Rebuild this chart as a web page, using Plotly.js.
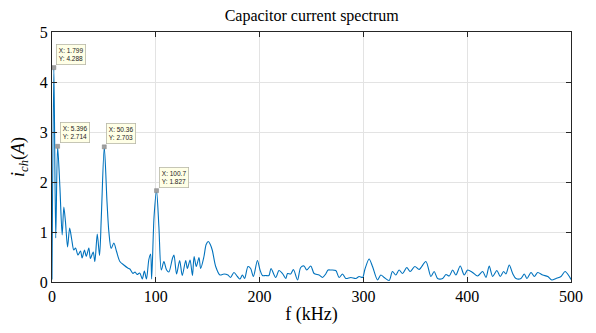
<!DOCTYPE html>
<html><head><meta charset="utf-8">
<script src="https://cdn.plot.ly/plotly-3.0.1.min.js"></script>
<style>html,body{margin:0;padding:0;background:#fff}#chart{width:596px;height:333px}</style>
</head><body><div id="chart"></div>
<script>
const freq = [0,1.799,3.6,5.396,7.6,9.8,11.4,13,15,17,19,21,22.7,25,27.5,29,31.3,33,35.5,37,39.7,41.3,43.6,45.8,47.5,50.36,53,54.8,57,59.6,62.2,65.4,69.2,73,75,78,80,82,84.5,87,89,91,93.3,95,96,98.3,100.7,103,105.3,107.8,110.4,112.6,116,117.5,120,123,125.5,128.8,130.4,133,135.3,136.9,139,141.6,143.2,146.4,148.5,150.6,152.5,154.5,157.7,161.8,165.7,169.5,172,175.3,178.6,181.1,183.4,185.6,188.8,191.4,194,197.9,200.4,202.7,205.9,209,211,215.5,218.7,222,225.2,226.9,230,232.6,236.5,239.6,242.8,245.4,249.3,252.5,257.3,260.6,263.7,266,268.6,273.4,276.6,279.9,283,287.9,292.7,295.9,299.2,301.4,305.5,308.8,313.6,316.8,320,324.8,328,331.2,334.4,337.7,341.8,345,349.6,353.7,360.2,365,368.2,371.5,376.3,379.5,382.7,386,389.1,393.3,397.1,400.4,405.2,410,414.9,418.1,421.2,424.5,428.6,431.8,435.1,437.3,440.5,443.8,447,451.8,455,457.6,461.5,464.7,467.9,472.8,477.6,481.5,485.6,490.4,494.3,498.4,500];
const amp = [0.05,4.288,0.88,2.714,1.9,0.94,1.5,1.2,0.7,1.08,0.85,0.64,0.68,0.54,0.62,0.48,0.64,0.51,0.68,0.47,0.6,0.41,0.96,0.53,1.3,2.703,1.6,1.0,0.67,0.78,0.61,0.41,0.34,0.28,0.26,0.17,0.2,0.15,0.18,0.06,0.22,0.06,0.45,0.56,0.06,1.3,1.827,1.1,0.24,0.41,0.24,0.2,0.47,0.54,0.16,0.43,0.13,0.43,0.27,0.44,0.13,0.51,0.31,0.49,0.27,0.51,0.75,0.81,0.75,0.63,0.31,0.14,0.16,0.14,0.09,0.19,0.11,0.06,0.14,0.07,0.31,0.27,0.11,0.43,0.24,0.13,0.13,0.13,0.27,0.09,0.23,0.17,0.07,0.17,0.16,0.25,0.04,0.29,0.32,0.24,0.32,0.17,0.14,0.09,0.16,0.24,0.24,0.23,0.09,0.16,0.07,0.09,0.07,0.11,0.09,0.25,0.46,0.31,0.04,0.14,0.09,0.03,0.21,0.14,0.24,0.17,0.29,0.21,0.31,0.25,0.41,0.11,0.21,0.07,0.07,0.15,0.12,0.24,0.14,0.32,0.14,0.24,0.19,0.12,0.21,0.09,0.32,0.11,0.23,0.11,0.21,0.16,0.34,0.17,0.07,0.07,0.16,0.07,0.19,0.11,0.19,0.14,0.11,0.04,0.07,0.11,0.21,0.11,0.05];
const tipX = [1.799, 5.396, 50.36, 100.7];
const tipY = [4.288, 2.714, 2.703, 1.827];
const tipXLabel = ["1.799", "5.396", "50.36", "100.7"];
const tipYLabel = ["4.288", "2.714", "2.703", "1.827"];
const xTicks = [0,100,200,300,400,500];
const yTicks = [0,1,2,3,4,5];

const serif = "Liberation Serif, Times New Roman, serif";
const traces = [
  {x: freq, y: amp, type: 'scatter', mode: 'lines', line: {color: '#0072BD', width: 1.1, shape: 'spline', smoothing: 0.8}, hoverinfo: 'skip'},
  {x: tipX, y: tipY, type: 'scatter', mode: 'markers', marker: {symbol: 'square', size: 4, color: '#a0a0a0', line: {color: '#808080', width: 0.5}}, hoverinfo: 'skip'}
];
const annotations = tipX.map((x, i) => ({
  x: x, y: tipY[i], xref: 'x', yref: 'y', showarrow: false,
  xanchor: 'left', yanchor: 'bottom', xshift: 2, yshift: 3,
  text: 'X: ' + tipXLabel[i] + '<br>Y: ' + tipYLabel[i],
  align: 'left', font: {family: 'Liberation Sans, Arial, sans-serif', size: 6.5, color: '#222'},
  bgcolor: '#ffffe6', bordercolor: '#b8b8a8', borderwidth: 0.8, borderpad: 2
}));
const layout = {
  width: 596, height: 333,
  margin: {l: 52, r: 25, t: 32, b: 51},
  paper_bgcolor: '#fff', plot_bgcolor: '#fff',
  showlegend: false,
  title: {text: 'Capacitor current spectrum', font: {family: serif, size: 16, color: '#000'}, x: 0.523, xanchor: 'center', y: 0.955, yanchor: 'middle'},
  xaxis: {range: [0, 500], tickvals: xTicks, ticktext: xTicks.map(String), showgrid: true, gridcolor: '#e3e3e3', gridwidth: 1,
    showline: true, linecolor: '#262626', linewidth: 1, mirror: 'ticks', ticks: 'inside', ticklen: 5, tickcolor: '#262626',
    zeroline: false, tickfont: {family: serif, size: 16, color: '#000'},
    title: {text: 'f (kHz)', font: {family: serif, size: 18, color: '#000'}, standoff: 3}},
  yaxis: {range: [0, 5], tickvals: yTicks, ticktext: yTicks.map(String), showgrid: true, gridcolor: '#e3e3e3', gridwidth: 1,
    showline: true, linecolor: '#262626', linewidth: 1, mirror: 'ticks', ticks: 'inside', ticklen: 5, tickcolor: '#262626',
    zeroline: false, tickfont: {family: serif, size: 16, color: '#000'},
    title: {text: '<i>i</i><sub><i>ch</i></sub>(<i>A</i>)', font: {family: serif, size: 18, color: '#000'}, standoff: 10}},
  annotations: annotations
};
Plotly.newPlot('chart', traces, layout, {staticPlot: true, displayModeBar: false});
</script></body></html>
